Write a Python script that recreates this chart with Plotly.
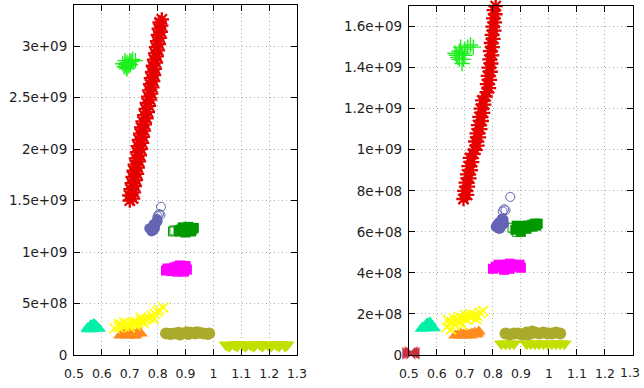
import plotly.graph_objects as go

E9 = 1e9

# ---------------- Left panel data (y in units of 1e9) ----------------
L_red_x = [0.700, 0.712, 0.698, 0.715, 0.703, 0.718, 0.707, 0.722, 0.710, 0.726, 0.714, 0.729, 0.718, 0.733,
           0.722, 0.736, 0.726, 0.740, 0.729, 0.744, 0.733, 0.747, 0.737, 0.751, 0.741, 0.754, 0.746, 0.760,
           0.752, 0.765, 0.757, 0.769, 0.761, 0.773, 0.766, 0.777, 0.770, 0.781, 0.773, 0.784, 0.776, 0.787,
           0.780, 0.790, 0.783, 0.794, 0.787, 0.797, 0.791, 0.801, 0.794, 0.804, 0.798, 0.808, 0.801, 0.811,
           0.804, 0.813, 0.807, 0.815]
L_red_y = [1.50, 1.52, 1.55, 1.58, 1.61, 1.64, 1.67, 1.70, 1.73, 1.76, 1.79, 1.82, 1.85, 1.88,
           1.91, 1.94, 1.97, 2.00, 2.03, 2.06, 2.09, 2.12, 2.15, 2.18, 2.21, 2.24, 2.27, 2.30,
           2.33, 2.36, 2.39, 2.42, 2.45, 2.48, 2.51, 2.54, 2.57, 2.60, 2.63, 2.66, 2.69, 2.72,
           2.75, 2.78, 2.81, 2.84, 2.87, 2.90, 2.93, 2.96, 2.99, 3.02, 3.05, 3.08, 3.11, 3.14,
           3.17, 3.20, 3.23, 3.26]
L_green_x = [0.680, 0.690, 0.700, 0.685, 0.695, 0.705, 0.675, 0.690, 0.710, 0.683, 0.698, 0.720, 0.688, 0.702]
L_green_y = [2.80, 2.84, 2.86, 2.82, 2.81, 2.85, 2.83, 2.78, 2.87, 2.86, 2.83, 2.86, 2.79, 2.82]
L_blue_fill_x = [0.775, 0.785, 0.780, 0.790, 0.795, 0.790, 0.800, 0.798, 0.770, 0.785, 0.778]
L_blue_fill_y = [1.22, 1.21, 1.24, 1.25, 1.28, 1.23, 1.30, 1.32, 1.23, 1.27, 1.20]
L_blue_open_x = [0.800, 0.805, 0.810, 0.812]
L_blue_open_y = [1.35, 1.37, 1.36, 1.44]
L_dgreen_fill_x = [0.875, 0.885, 0.895, 0.905, 0.915, 0.925, 0.890, 0.910, 0.930, 0.880, 0.900, 0.920]
L_dgreen_fill_y = [1.21, 1.22, 1.20, 1.21, 1.23, 1.22, 1.24, 1.245, 1.235, 1.20, 1.19, 1.20]
L_dgreen_open_x = [0.855, 0.860]
L_dgreen_open_y = [1.20, 1.21]
L_mag_x = [0.830, 0.840, 0.850, 0.860, 0.870, 0.880, 0.890, 0.900, 0.905, 0.895, 0.870, 0.850, 0.835, 0.880, 0.900]
L_mag_y = [0.82, 0.83, 0.84, 0.85, 0.86, 0.86, 0.85, 0.84, 0.83, 0.81, 0.81, 0.815, 0.84, 0.87, 0.865]
L_teal_x = [0.555, 0.565, 0.575, 0.560, 0.570, 0.580, 0.565, 0.585, 0.550, 0.590, 0.548, 0.575]
L_teal_y = [0.26, 0.27, 0.27, 0.29, 0.30, 0.28, 0.25, 0.26, 0.25, 0.255, 0.26, 0.295]
L_yel_x = [0.645, 0.660, 0.670, 0.680, 0.690, 0.700, 0.710, 0.720, 0.730, 0.740, 0.750, 0.760, 0.770,
           0.780, 0.790, 0.800, 0.820, 0.680, 0.700, 0.660, 0.720, 0.750, 0.785, 0.805, 0.740]
L_yel_y = [0.26, 0.27, 0.29, 0.28, 0.30, 0.30, 0.31, 0.32, 0.31, 0.33, 0.34, 0.35, 0.36,
           0.38, 0.40, 0.42, 0.46, 0.32, 0.27, 0.30, 0.29, 0.31, 0.35, 0.44, 0.36]
L_org_x = [0.665, 0.675, 0.685, 0.695, 0.705, 0.715, 0.725, 0.735, 0.740, 0.680, 0.700, 0.720, 0.690, 0.710]
L_org_y = [0.19, 0.20, 0.21, 0.20, 0.21, 0.20, 0.21, 0.22, 0.21, 0.22, 0.22, 0.19, 0.19, 0.19]
L_olive_x = [0.830, 0.845, 0.860, 0.875, 0.890, 0.905, 0.920, 0.935, 0.950, 0.965, 0.980, 0.985, 0.880, 0.910, 0.940]
L_olive_y = [0.21, 0.205, 0.21, 0.215, 0.21, 0.22, 0.215, 0.21, 0.215, 0.21, 0.205, 0.21, 0.20, 0.205, 0.22]
L_yg_x = [1.045, 1.060, 1.075, 1.090, 1.105, 1.120, 1.135, 1.150, 1.165, 1.180, 1.195, 1.210, 1.225, 1.240, 1.255, 1.265,
          1.055, 1.085, 1.115, 1.145, 1.175, 1.205, 1.235, 1.258]
L_yg_y = [0.10, 0.095, 0.10, 0.105, 0.10, 0.10, 0.095, 0.10, 0.105, 0.10, 0.10, 0.095, 0.10, 0.105, 0.10, 0.10,
          0.085, 0.085, 0.085, 0.085, 0.085, 0.085, 0.085, 0.085]

# ---------------- Right panel data (y in units of 1e9) ----------------
R_red_x = [0.695, 0.708, 0.698, 0.711, 0.703, 0.716, 0.708, 0.721, 0.713, 0.726, 0.718, 0.731, 0.735, 0.745,
           0.737, 0.750, 0.742, 0.755, 0.747, 0.760, 0.752, 0.765, 0.757, 0.769, 0.762, 0.774, 0.778, 0.786,
           0.779, 0.789, 0.782, 0.792, 0.785, 0.794, 0.788, 0.797, 0.790, 0.799, 0.793, 0.802, 0.796, 0.805,
           0.799, 0.807, 0.801, 0.809, 0.803, 0.810]
R_red_y = [0.76, 0.78, 0.80, 0.82, 0.84, 0.86, 0.88, 0.90, 0.92, 0.94, 0.96, 0.98, 1.00, 1.02,
           1.04, 1.06, 1.08, 1.10, 1.12, 1.14, 1.16, 1.18, 1.20, 1.22, 1.24, 1.26, 1.28, 1.30,
           1.32, 1.34, 1.36, 1.38, 1.40, 1.42, 1.44, 1.46, 1.48, 1.50, 1.52, 1.54, 1.56, 1.58,
           1.60, 1.62, 1.64, 1.66, 1.68, 1.70]
R_green_x = [0.670, 0.680, 0.690, 0.700, 0.675, 0.685, 0.695, 0.710, 0.720, 0.665, 0.690, 0.700, 0.680, 0.730]
R_green_y = [1.46, 1.48, 1.47, 1.49, 1.45, 1.50, 1.44, 1.50, 1.51, 1.47, 1.42, 1.46, 1.44, 1.50]
R_blue_fill_x = [0.810, 0.820, 0.830, 0.820, 0.830, 0.838, 0.815, 0.832, 0.825, 0.840]
R_blue_fill_y = [0.625, 0.615, 0.625, 0.645, 0.650, 0.660, 0.635, 0.665, 0.615, 0.640]
R_blue_open_x = [0.835, 0.845, 0.840, 0.862]
R_blue_open_y = [0.700, 0.705, 0.710, 0.770]
R_dgreen_fill_x = [0.880, 0.890, 0.900, 0.910, 0.920, 0.930, 0.940, 0.950, 0.960, 0.885, 0.900, 0.920, 0.940, 0.955]
R_dgreen_fill_y = [0.610, 0.615, 0.620, 0.625, 0.630, 0.630, 0.635, 0.640, 0.640, 0.630, 0.600, 0.615, 0.625, 0.630]
R_dgreen_open_x = [0.885, 0.870]
R_dgreen_open_y = [0.600, 0.620]
R_mag_x = [0.800, 0.810, 0.820, 0.830, 0.840, 0.850, 0.860, 0.870, 0.880, 0.890, 0.900, 0.895, 0.840, 0.860, 0.820]
R_mag_y = [0.420, 0.430, 0.425, 0.430, 0.435, 0.440, 0.445, 0.440, 0.435, 0.430, 0.425, 0.440, 0.415, 0.420, 0.440]
R_teal_x = [0.550, 0.560, 0.570, 0.580, 0.565, 0.575, 0.585, 0.555, 0.570, 0.590, 0.545]
R_teal_y = [0.135, 0.140, 0.145, 0.140, 0.155, 0.160, 0.135, 0.130, 0.130, 0.130, 0.128]
R_yel_x = [0.635, 0.645, 0.655, 0.665, 0.675, 0.685, 0.695, 0.705, 0.715, 0.725, 0.735, 0.745, 0.755,
           0.765, 0.660, 0.680, 0.700, 0.720, 0.640, 0.650, 0.690, 0.740]
R_yel_y = [0.135, 0.150, 0.160, 0.145, 0.170, 0.160, 0.180, 0.175, 0.190, 0.185, 0.195, 0.190, 0.205,
           0.215, 0.180, 0.185, 0.195, 0.200, 0.170, 0.125, 0.145, 0.175]
R_org_x = [0.665, 0.675, 0.685, 0.695, 0.705, 0.715, 0.725, 0.735, 0.745, 0.750, 0.680, 0.700, 0.720, 0.740]
R_org_y = [0.095, 0.100, 0.105, 0.100, 0.105, 0.100, 0.105, 0.110, 0.105, 0.115, 0.095, 0.095, 0.095, 0.100]
R_olive_x = [0.845, 0.860, 0.875, 0.890, 0.905, 0.920, 0.935, 0.950, 0.965, 0.980, 0.995, 1.010, 1.025, 1.040, 0.940, 0.925]
R_olive_y = [0.105, 0.100, 0.105, 0.105, 0.100, 0.110, 0.105, 0.110, 0.105, 0.110, 0.105, 0.105, 0.110, 0.105, 0.115, 0.100]
R_yg_x = [0.830, 0.845, 0.860, 0.875, 0.920, 0.935, 0.950, 0.965, 0.980, 0.995, 1.010, 1.025, 1.040, 1.055]
R_yg_y = [0.055, 0.055, 0.055, 0.055, 0.055, 0.055, 0.055, 0.055, 0.055, 0.055, 0.055, 0.055, 0.055, 0.055]
R_dred_x = [0.492, 0.500, 0.508, 0.515]
R_dred_y = [0.012, 0.008, 0.012, 0.008]

# ---------------- Tick labels ----------------
x_ticks = [0.5, 0.6, 0.7, 0.8, 0.9, 1.0, 1.1, 1.2, 1.3]
x_labels = ["0.5", "0.6", "0.7", "0.8", "0.9", "1", "1.1", "1.2", "1.3"]
yl_ticks = [0, 0.5e9, 1.0e9, 1.5e9, 2.0e9, 2.5e9, 3.0e9]
yl_labels = ["0", "5e+08", "1e+09", "1.5e+09", "2e+09", "2.5e+09", "3e+09"]
yr_ticks = [0, 0.2e9, 0.4e9, 0.6e9, 0.8e9, 1.0e9, 1.2e9, 1.4e9, 1.6e9]
yr_labels = ["0", "2e+08", "4e+08", "6e+08", "8e+08", "1e+09", "1.2e+09", "1.4e+09", "1.6e+09"]

C_RED = "#e60000"
C_GREEN = "#1ef01e"
C_BLUE = "#6464b4"
C_DGREEN = "#009a00"
C_MAG = "#ff00ff"
C_TEAL = "#00f0a8"
C_YEL = "#ffff00"
C_ORG = "#ff8a1e"
C_OLIVE = "#aaaa2c"
C_YG = "#c2e000"
C_DRED = "#c83240"

fig = go.Figure()


def add(xs, ys, xa, ya, symbol, color, size, filled=True, lw=1.2):
    if filled:
        marker = dict(symbol=symbol, size=size, color=color, line=dict(width=0))
    else:
        marker = dict(symbol=symbol, size=size, color=color, line=dict(width=lw, color=color))
    fig.add_trace(go.Scatter(x=xs, y=[v * E9 for v in ys], xaxis=xa, yaxis=ya,
                             mode="markers", marker=marker, cliponaxis=False,
                             showlegend=False, hoverinfo="skip"))


for side, xa, ya in (("L", "x", "y"), ("R", "x2", "y2")):
    g = globals()
    add(g[side + "_yg_x"], g[side + "_yg_y"], xa, ya, "triangle-down", C_YG, 13)
    add(g[side + "_olive_x"], g[side + "_olive_y"], xa, ya, "circle", C_OLIVE, 12)
    add(g[side + "_org_x"], g[side + "_org_y"], xa, ya, "triangle-up", C_ORG, 12)
    add(g[side + "_yel_x"], g[side + "_yel_y"], xa, ya, "x-thin-open", C_YEL, 10, False, 1.6)
    add(g[side + "_teal_x"], g[side + "_teal_y"], xa, ya, "triangle-up", C_TEAL, 12)
    add(g[side + "_mag_x"], g[side + "_mag_y"], xa, ya, "square", C_MAG, 10)
    add(g[side + "_dgreen_open_x"], g[side + "_dgreen_open_y"], xa, ya, "square-open", C_DGREEN, 9, False, 1)
    add(g[side + "_dgreen_fill_x"], g[side + "_dgreen_fill_y"], xa, ya, "square", C_DGREEN, 10)
    add(g[side + "_blue_open_x"], g[side + "_blue_open_y"], xa, ya, "circle-open", C_BLUE, 9, False, 1)
    add(g[side + "_blue_fill_x"], g[side + "_blue_fill_y"], xa, ya, "circle", C_BLUE, 10)
    add(g[side + "_green_x"], g[side + "_green_y"], xa, ya, "cross-thin-open", C_GREEN, 11, False, 1.4)
    add(g[side + "_red_x"], g[side + "_red_y"], xa, ya, "asterisk-open", C_RED, 12, False, 2.3)

add(R_dred_x, R_dred_y, "x2", "y2", "bowtie", C_DRED, 13)

yfont = dict(family="DejaVu Sans", size=13.5, color="#222222")
xfont = dict(family="DejaVu Sans", size=12.5, color="#222222")
axis_common = dict(showline=True, linecolor="black", linewidth=1, mirror="ticks",
                   ticks="inside", ticklen=6, tickcolor="black", tickwidth=1,
                   showgrid=True, gridcolor="#b0b0b0", griddash="1px,3px", gridwidth=1,
                   zeroline=False, automargin=False, tickangle=0)

fig.update_layout(
    width=644, height=388,
    margin=dict(l=74, r=11, t=5, b=33),
    paper_bgcolor="white", plot_bgcolor="white",
    xaxis=dict(domain=[0, 0.399], range=[0.5, 1.3], tickvals=x_ticks, ticktext=x_labels,
               anchor="y", ticklabelstandoff=7, tickfont=xfont, **axis_common),
    yaxis=dict(domain=[0, 1], range=[0, 3.4e9], tickvals=yl_ticks, ticktext=yl_labels,
               anchor="x", ticklabelstandoff=3, tickfont=yfont, **axis_common),
    # last label of the right panel is drawn as an annotation, shifted to stay inside the page
    xaxis2=dict(domain=[0.599, 1], range=[0.5, 1.3], tickvals=x_ticks,
                ticktext=x_labels[:-1] + [""], anchor="y2", ticklabelstandoff=7,
                tickfont=xfont, **axis_common),
    yaxis2=dict(domain=[0, 0.997], range=[0, 1.7e9], tickvals=yr_ticks, ticktext=yr_labels,
                anchor="x2", ticklabelstandoff=3, tickfont=yfont, **axis_common),
    annotations=[dict(text=x_labels[-1], xref="x2", x=x_ticks[-1], yref="paper", y=0,
                      xanchor="left", yanchor="top", xshift=-15, yshift=-8,
                      showarrow=False, font=xfont)],
)

fig.write_html("out.html", config={"displayModeBar": False},
               post_script="document.body.style.margin='0';")
